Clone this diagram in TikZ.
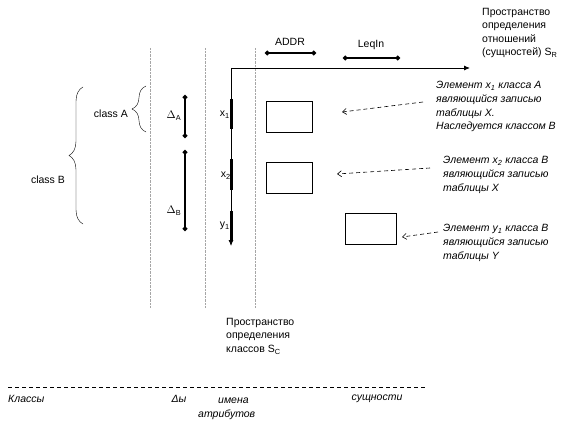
\documentclass[tikz,border=0pt]{standalone}
\usepackage{fontspec}
\setmainfont{Liberation Sans}
\usetikzlibrary{arrows.meta,decorations.pathreplacing}
\tikzset{
  txt/.style={font=\fontsize{10.5}{13.5}\selectfont, inner sep=0pt, align=left},
  note/.style={txt, font=\fontsize{10.5}{13.8}\selectfont\itshape},
  guide/.style={densely dotted, gray!70},
  seg/.style={line width=3pt},
  span/.style={line width=1.6pt, {Circle[length=4.5pt]}-{Circle[length=4.5pt]}},
  ptr/.style={line width=0.6pt, dash pattern=on 4pt off 3pt, -{Straight Barb[length=4pt,width=6pt]}},
  cell/.style={draw, minimum width=46pt, minimum height=31pt, inner sep=0pt},
  curly/.style={decorate, decoration={brace, amplitude=14pt}},
  axis/.style={line width=0.8pt, -{Latex[length=6pt,width=5pt]}}
}
\begin{document}
\begin{tikzpicture}[x=1pt,y=-1pt]
\useasboundingbox (0,0) rectangle (568,428);
% guides
\foreach \gx in {150,205,255}
  \draw[guide] (\gx,48) -- (\gx,308);
% axes
\coordinate (orig) at (231,68);
\coordinate (xend) at (470,68);
\coordinate (yend) at (231,246);
\draw[axis] (orig) -- (xend);
\draw[axis] (orig) -- (yend);
% attribute segments
\draw[seg] (231,99) coordinate (x1a) -- (231,129) coordinate (x1b);
\draw[seg] (231,159) coordinate (x2a) -- (231,190) coordinate (x2b);
\draw[seg] (231,211) coordinate (y1a) -- (231,241) coordinate (y1b);
\node[txt, anchor=east] (lx1) at (230,115) {x\textsubscript{1}};
\node[txt, anchor=east] (lx2) at (231,176) {x\textsubscript{2}};
\node[txt, anchor=east] (ly1) at (230,226) {y\textsubscript{1}};
% relation attributes
\coordinate (addra) at (265,53);
\coordinate (addrb) at (316,53);
\coordinate (leqa) at (343,58);
\coordinate (leqb) at (400,58);
\draw[span] (addra) -- (addrb);
\draw[span] (leqa) -- (leqb);
\node[txt] (addr) at (290,42) {ADDR};
\node[txt] (leq) at (371,45) {LeqIn};
\node[txt, anchor=north west] (sr) at (482,8)
  {Пространство\\определения\\отношений\\(сущностей) S\textsubscript{R}};
% records
\node[cell] (rx1) at (289,116.5) {};
\node[cell] (rx2) at (289,177.5) {};
\node[cell, minimum width=51pt] (ry1) at (370.5,228.5) {};
% notes
\node[note, anchor=north west] (n1) at (436,81)
  {Элемент x\textsubscript{1} класса A\\являющийся записью\\таблицы X.\\Наследуется классом B};
\node[note, anchor=north west] (n2) at (443,156)
  {Элемент x\textsubscript{2} класса B\\являющийся записью\\таблицы X};
\node[note, anchor=north west] (n3) at (443,224)
  {Элемент y\textsubscript{1} класса B\\являющийся записью\\таблицы Y};
\coordinate (p1) at (423,102);
\coordinate (q1) at (342,112);
\coordinate (p2) at (430,168);
\coordinate (q2) at (337,174);
\coordinate (p3) at (438,232);
\coordinate (q3) at (402,237);
\draw[ptr] (p1) -- (q1);
\draw[ptr] (p2) -- (q2);
\draw[ptr] (p3) -- (q3);
% deltas
\draw[span] (185,95) coordinate (da) -- (185,138) coordinate (db);
\draw[span] (185,150) coordinate (dc) -- (185,231) coordinate (dd);
\node[txt] (ldA) at (174,116) {$\Delta_{\mathrm{A}}$};
\node[txt] (ldB) at (174,211) {$\Delta_{\mathrm{B}}$};
% classes
\draw[curly] (146,132) coordinate (ca) -- (146,86) coordinate (cb);
\draw[curly] (83,224) coordinate (cc) -- (83,87) coordinate (cd);
\node[txt, anchor=east] (clA) at (128,114) {class A};
\node[txt] (clB) at (48,180) {class B};
% space of classes
\node[txt, anchor=north west] (sc) at (226,318)
  {Пространство\\определения\\классов S\textsubscript{C}};
% legend
\coordinate (la) at (8,387);
\coordinate (lb) at (425,387);
\draw[dashed, dash pattern=on 4pt off 3pt] (la) -- (lb);
\node[note, anchor=west] (k1) at (8,399) {Классы};
\node[note] (k2) at (179,399) {Δы};
\node[note, anchor=north west] (k3) at (198,397.5) {\hspace{20pt}имена\\атрибутов};
\node[note] (k4) at (377,399) {сущности};
\end{tikzpicture}
\end{document}
